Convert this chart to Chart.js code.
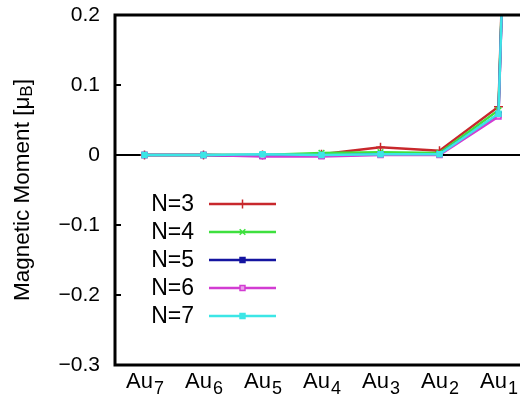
<!DOCTYPE html>
<html>
<head>
<meta charset="utf-8">
<script src="https://cdn.jsdelivr.net/npm/chart.js@4.4.1/dist/chart.umd.min.js"></script>
<style>
  html, body { margin: 0; padding: 0; background: #fff; overflow: hidden; }
  #wrap { position: absolute; left: 0; top: 0; width: 620px; height: 403px; }
</style>
</head>
<body>
<div id="wrap"><canvas id="momentChart" width="620" height="403"></canvas></div>
<script>
// --- Datos ---
// la última categoría queda fuera de la ventana (la línea sube casi vertical después de Au1)
const categories = ['Au7', 'Au6', 'Au5', 'Au4', 'Au3', 'Au2', 'Au1', 'Fe'];
const seriesNames = ['N=3', 'N=4', 'N=5', 'N=6', 'N=7'];
const n3 = [0, 0, 0, 0.001, 0.011, 0.006, 0.069, 2.8];
const n4 = [0, 0, 0, 0.003, 0.004, 0.003, 0.064, 2.8];
const n5 = [0, 0, -0.001, -0.001, 0.001, 0.001, 0.058, 2.8];
const n6 = [0, 0, -0.002, -0.002, 0, 0, 0.055, 2.8];
const n7 = [0, 0, 0.001, 0, 0.001, 0.001, 0.059, 2.8];
const yTicks = [-0.3, -0.2, -0.1, 0, 0.1, 0.2];

const FONT = '"Liberation Sans", Arial, Helvetica, sans-serif';

// --- Estilos de cada serie ---
const styles = [
    { color: '#c8282c', point: 'cross',    fill: '#c8282c', radius: 4.5 },
    { color: '#3ee03e', point: 'crossRot', fill: '#3ee03e', radius: 4 },
    { color: '#1414a0', point: 'rect',     fill: '#1414a0', radius: 3.5 },
    { color: '#d23cd2', point: 'rect',     fill: '#eaa0ea', radius: 3.5 },
    { color: '#3ce6e6', point: 'rect',     fill: '#3ce6e6', radius: 3.5 }
];
const values = [n3, n4, n5, n6, n7];

const datasets = values.map((data, i) => ({
    label: seriesNames[i],
    data: data,
    borderColor: styles[i].color,
    backgroundColor: styles[i].fill,
    pointBorderColor: styles[i].color,
    pointBackgroundColor: styles[i].fill,
    pointStyle: styles[i].point,
    pointRadius: styles[i].radius,
    pointBorderWidth: 1.5,
    borderWidth: 2.5,
    tension: 0,
    order: values.length - 1 - i // N=7 encima
}));

const fmt = (v) => {
    if (Math.abs(v) < 1e-9) return '0';
    return v < 0 ? '\u2212' + Math.abs(v).toFixed(1) : v.toFixed(1);
};

// texto con subíndice (dígitos al final en pequeño y más abajo)
function drawSubText(ctx, base, sub, x, y, size, subSize, drop, align) {
    ctx.font = size + 'px ' + FONT;
    const wBase = ctx.measureText(base).width;
    ctx.font = subSize + 'px ' + FONT;
    const wSub = ctx.measureText(sub).width;
    const total = wBase + wSub;
    let x0 = x;
    if (align === 'center') x0 = x - total / 2;
    ctx.textAlign = 'left';
    ctx.textBaseline = 'alphabetic';
    ctx.font = size + 'px ' + FONT;
    ctx.fillText(base, x0, y);
    ctx.font = subSize + 'px ' + FONT;
    ctx.fillText(sub, x0 + wBase + 1, y + drop);
    return total;
}

// --- Plugin: marco, línea cero, etiquetas, título y leyenda ---
const decorPlugin = {
    id: 'decor',
    beforeDatasetsDraw(chart) {
        const { ctx, chartArea: a, scales: { y } } = chart;
        ctx.save();
        ctx.strokeStyle = '#000';
        ctx.lineWidth = 2;
        const y0 = Math.round(y.getPixelForValue(0));
        ctx.beginPath();
        ctx.moveTo(a.left, y0);
        ctx.lineTo(a.right, y0);
        ctx.stroke();
        ctx.restore();
    },
    afterDraw(chart) {
        const { ctx, chartArea: a, scales: { x, y } } = chart;
        ctx.save();
        // marco
        ctx.strokeStyle = '#000';
        ctx.lineWidth = 3;
        ctx.strokeRect(a.left, a.top, a.right - a.left, a.bottom - a.top);
        // marcas hacia dentro en el eje y
        ctx.lineWidth = 2;
        yTicks.forEach(v => {
            const py = Math.round(y.getPixelForValue(v));
            ctx.beginPath();
            ctx.moveTo(a.left, py);
            ctx.lineTo(a.left + 6, py);
            ctx.stroke();
        });

        // etiquetas del eje x con subíndice
        ctx.fillStyle = '#000';
        categories.forEach((c, i) => {
            const m = c.match(/^([A-Za-z]+)(\d*)$/);
            const px = x.getPixelForValue(i);
            drawSubText(ctx, m[1], m[2], px, 388, 22, 18, 6, 'center');
        });

        // título del eje y
        ctx.save();
        ctx.translate(23, (a.top + a.bottom) / 2);
        ctx.rotate(-Math.PI / 2);
        ctx.font = '22.5px ' + FONT;
        const p1 = 'Magnetic Moment [\u03bc';
        const w1 = ctx.measureText(p1).width;
        ctx.font = '17px ' + FONT;
        const w2 = ctx.measureText('B').width;
        ctx.font = '22.5px ' + FONT;
        const w3 = ctx.measureText(']').width;
        const start = -(w1 + w2 + w3) / 2;
        ctx.textAlign = 'left';
        ctx.textBaseline = 'middle';
        ctx.fillText(p1, start, 0);
        ctx.font = '17px ' + FONT;
        ctx.fillText('B', start + w1, 4);
        ctx.font = '22.5px ' + FONT;
        ctx.fillText(']', start + w1 + w2, 0);
        ctx.restore();

        // leyenda
        const rows = [204, 232, 260, 288, 316];
        seriesNames.forEach((name, i) => {
            const ry = rows[i];
            ctx.fillStyle = '#000';
            ctx.font = '23px ' + FONT;
            ctx.textAlign = 'right';
            ctx.textBaseline = 'middle';
            ctx.fillText(name, 194, ry + 1);
            ctx.strokeStyle = styles[i].color;
            ctx.lineWidth = 2.5;
            ctx.beginPath();
            ctx.moveTo(209, ry);
            ctx.lineTo(276, ry);
            ctx.stroke();
            ctx.fillStyle = styles[i].fill;
            ctx.lineWidth = 1.5;
            Chart.helpers.drawPoint(ctx, {
                pointStyle: styles[i].point,
                radius: styles[i].radius,
                rotation: 0,
                borderWidth: 1.5
            }, 242.5, ry);
        });
        ctx.restore();
    }
};

document.addEventListener('DOMContentLoaded', () => {
    const ctx = document.getElementById('momentChart').getContext('2d');
    new Chart(ctx, {
        type: 'line',
        data: { labels: categories, datasets: datasets },
        options: {
            responsive: false,
            animation: false,
            devicePixelRatio: 1,
            layout: { padding: { top: 15, right: 33, left: 0, bottom: 0 } },
            plugins: {
                legend: { display: false },
                tooltip: { enabled: false }
            },
            scales: {
                x: {
                    type: 'category',
                    offset: true,
                    grid: { display: false, drawTicks: false },
                    border: { display: false },
                    ticks: { display: false },
                    afterFit: (s) => { s.height = 38; s.paddingLeft = 0; s.paddingRight = 0; }
                },
                y: {
                    min: -0.3,
                    max: 0.2,
                    afterBuildTicks: (s) => { s.ticks = yTicks.map(v => ({ value: v })); },
                    grid: { display: false, drawTicks: false },
                    border: { display: false },
                    ticks: {
                        padding: 15,
                        color: '#000',
                        font: { family: FONT, size: 21 },
                        callback: (v) => fmt(v)
                    },
                    afterFit: (s) => { s.width = 115; s.paddingTop = 0; s.paddingBottom = 0; }
                }
            }
        },
        plugins: [decorPlugin]
    });
});
</script>
</body>
</html>
